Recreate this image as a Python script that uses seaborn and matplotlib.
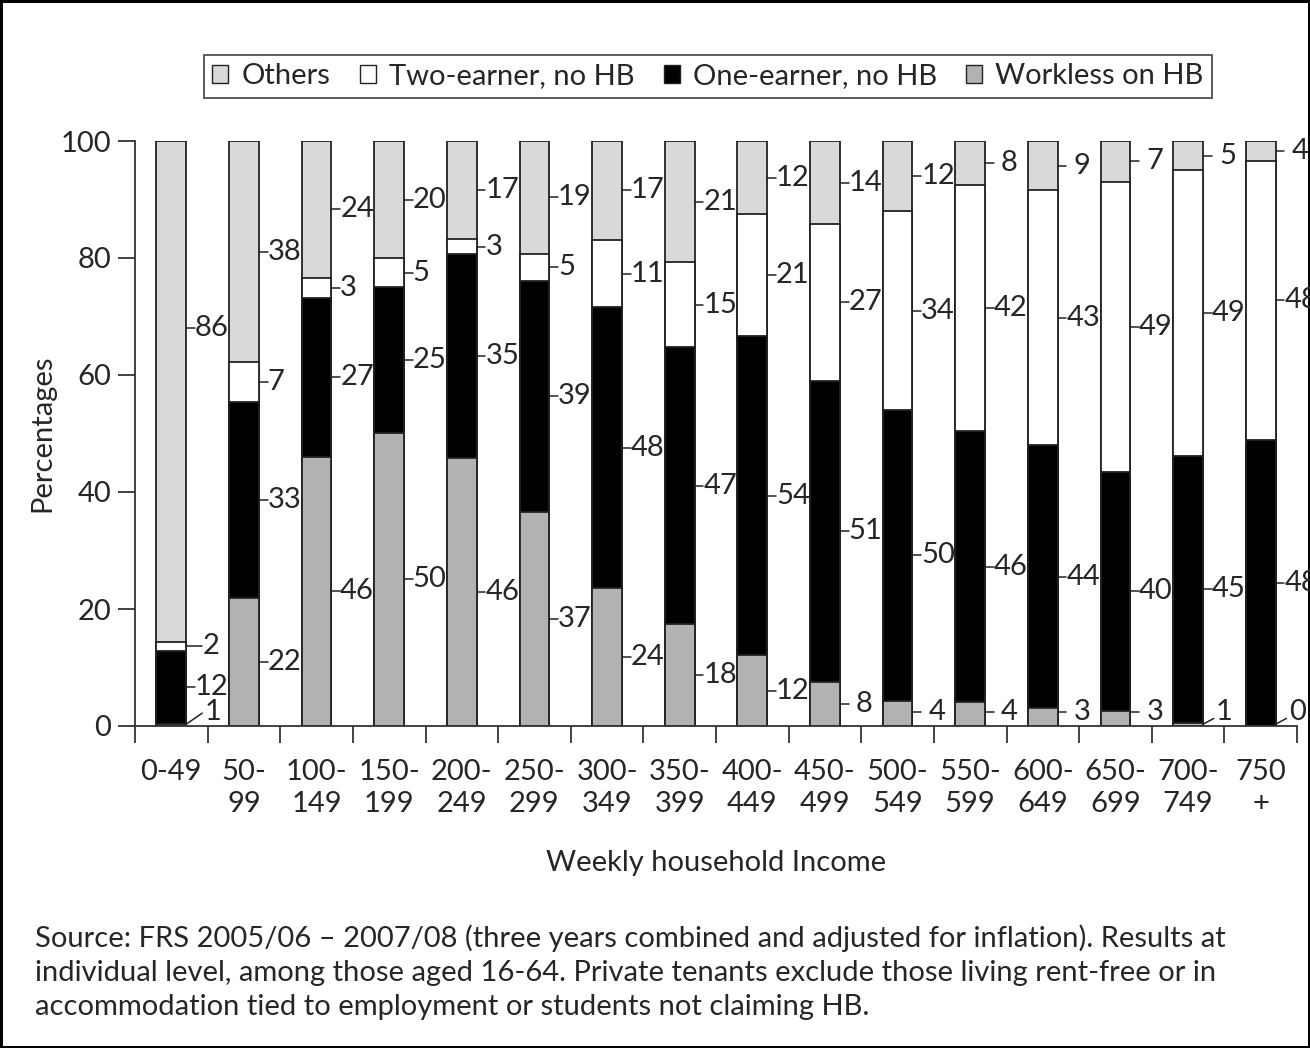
import numpy as np
import pandas as pd
import seaborn as sns
import matplotlib.pyplot as plt
from matplotlib.patches import Patch

# --------------------------------------------------------
# Data
# --------------------------------------------------------
bands = ["0-49", "50-\n99", "100-\n149", "150-\n199", "200-\n249", "250-\n299",
         "300-\n349", "350-\n399", "400-\n449", "450-\n499", "500-\n549",
         "550-\n599", "600-\n649", "650-\n699", "700-\n749", "750\n+"]

# segment heights as drawn
workless = [0.4, 21.9, 46.0, 50.1, 45.8, 36.6, 23.6, 17.4, 12.1, 7.5, 4.3, 4.1, 3.1, 2.6, 0.5, 0.0]
one_earner = [12.4, 33.5, 27.2, 24.9, 34.9, 39.5, 48.0, 47.4, 54.6, 51.5, 49.7, 46.3, 44.9, 40.8, 45.7, 48.9]
two_earner = [1.6, 6.8, 3.4, 5.0, 2.5, 4.6, 11.5, 14.5, 20.8, 26.8, 34.0, 42.1, 43.6, 49.6, 48.8, 47.7]
others = [85.6, 37.8, 23.4, 20.0, 16.8, 19.3, 16.9, 20.7, 12.5, 14.2, 12.0, 7.5, 8.4, 7.0, 5.0, 3.4]

# printed labels
workless_lbl = [1, 22, 46, 50, 46, 37, 24, 18, 12, 8, 4, 4, 3, 3, 1, 0]
one_earner_lbl = [12, 33, 27, 25, 35, 39, 48, 47, 54, 51, 50, 46, 44, 40, 45, 48]
two_earner_lbl = [2, 7, 3, 5, 3, 5, 11, 15, 21, 27, 34, 42, 43, 49, 49, 48]
others_lbl = [86, 38, 24, 20, 17, 19, 17, 21, 12, 14, 12, 8, 9, 7, 5, 4]

series = ["Others", "Two-earner, no HB", "One-earner, no HB", "Workless on HB"]
colors = {"Others": "#d9d9db", "Two-earner, no HB": "#ffffff",
          "One-earner, no HB": "#000000", "Workless on HB": "#b2b2b2"}

source = ["Source: FRS 2005/06 \u2013 2007/08 (three years combined and adjusted for inflation). Results at",
          "individual level, among those aged 16-64. Private tenants exclude those living rent-free or in",
          "accommodation tied to employment or students not claiming HB."]

# --------------------------------------------------------
# Build table
# --------------------------------------------------------
df = pd.DataFrame({"band": bands, "workless": workless, "one": one_earner,
                   "two": two_earner, "others": others})
df["c1"] = df["workless"]
df["c2"] = df["c1"] + df["one"]
df["c3"] = df["c2"] + df["two"]
df["c4"] = df["c3"] + df["others"]

# --------------------------------------------------------
# Plot
# --------------------------------------------------------
sns.set_style("white")
plt.rcParams["font.family"] = ["Lato", "DejaVu Sans"]
FS = 21

fig = plt.figure(figsize=(13.1, 10.48), dpi=100, linewidth=2.5, edgecolor="black")
ax = fig.add_axes([135 / 1310, 1 - 726 / 1048, 1162 / 1310, 585 / 1048])

W = 0.41
for col, name in [("c4", "Others"), ("c3", "Two-earner, no HB"),
                  ("c2", "One-earner, no HB"), ("c1", "Workless on HB")]:
    sns.barplot(data=df, x="band", y=col, color=colors[name], saturation=1,
                width=W, edgecolor="#222222", linewidth=1.3, errorbar=None, ax=ax)

ax.set_xlim(-0.5, 15.5)
ax.set_ylim(0, 100)
sns.despine(ax=ax)
for s in ["left", "bottom"]:
    ax.spines[s].set_color("#333333")
    ax.spines[s].set_linewidth(1.3)

ax.set_yticks([0, 20, 40, 60, 80, 100])
ax.tick_params(axis="y", labelsize=FS, length=12, width=1.3, color="#333333", pad=5, left=True)
ax.set_xticks(np.arange(-0.5, 16, 1))
ax.set_xticklabels([])
ax.set_xticks(np.arange(16), minor=True)
ax.set_xticklabels(bands, minor=True, fontsize=FS, linespacing=1.25)
ax.tick_params(axis="x", which="major", length=12, width=1.3, color="#333333", bottom=True)
ax.tick_params(axis="x", which="minor", length=0, pad=24)
ax.set_xlabel("Weekly household Income", fontsize=FS, labelpad=24)
ax.set_ylabel("Percentages", fontsize=FS, labelpad=4)

# value labels with leader lines
half = W / 2
segs = [(df["workless"], workless_lbl, df["c1"] - df["workless"]),
        (df["one"], one_earner_lbl, df["c1"]),
        (df["two"], two_earner_lbl, df["c2"]),
        (df["others"], others_lbl, df["c3"])]
for i in range(len(bands)):
    x0 = i + half
    for k, (h, lbl, bot) in enumerate(segs):
        v = lbl[i]
        mid = bot[i] + h[i] / 2
        if k == 3 and i == 0:
            mid = 68
        if k == 0 and v <= 1:
            dx = 0.22 if i == 0 else 0.15
            ax.plot([x0, x0 + dx], [0.3, 2.2 if i == 0 else 1.3], color="#222222",
                    lw=1.1, clip_on=False)
            ax.text(x0 + dx + 0.03, 2.4, str(v), fontsize=FS, va="center", ha="left",
                    clip_on=False)
            continue
        if k == 0:
            mid = max(mid, 2.4)
        gap = v < 10 and i >= 9
        tick = 0.22 if (i == 0 and k == 2) else 0.12
        ax.plot([x0, x0 + tick], [mid, mid], color="#222222", lw=1.1, clip_on=False)
        tx = x0 + tick + (0.1 if gap else 0.0)
        ax.text(tx, mid, str(v), fontsize=FS, va="center", ha="left", clip_on=False)

# legend
handles = [Patch(facecolor=colors[s], edgecolor="#222222", linewidth=1.0) for s in series]
leg = fig.legend(handles, series, loc="upper center", bbox_to_anchor=(708 / 1310, 1 - 40 / 1048),
                 ncol=4, fontsize=FS, frameon=True, fancybox=False, edgecolor="#222222",
                 handlelength=0.55, handleheight=0.55, handletextpad=0.45, columnspacing=1.0,
                 borderpad=0.3)
leg.get_frame().set_linewidth(1.3)

# source note
for j, line in enumerate(source):
    fig.text(35 / 1310, 1 - (938 + 34.5 * j) / 1048, line, fontsize=FS, va="center", ha="left")

fig.savefig("out.png", dpi=100, edgecolor=fig.get_edgecolor())
